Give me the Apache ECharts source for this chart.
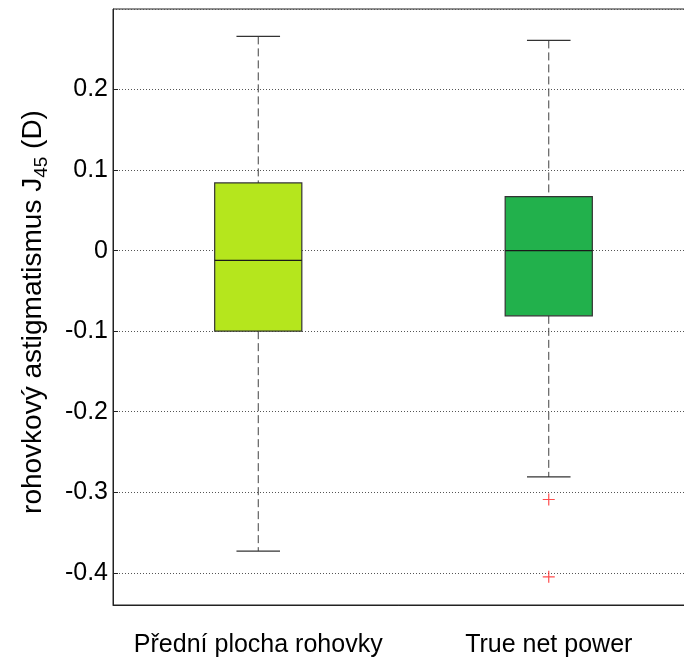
<!DOCTYPE html>
<html>
<head>
<meta charset="utf-8">
<script src="https://cdn.jsdelivr.net/npm/echarts@6/dist/echarts.min.js"></script>
<style>
  html, body { margin: 0; padding: 0; background: #fff; overflow: hidden; }
  #chart { width: 684px; height: 659px; }
</style>
</head>
<body>
<div id="chart"></div>
<script>
// Box-plot summary of corneal astigmatism J45 for two measurement methods
const categories = ['Přední plocha rohovky', 'True net power'];
const whiskerLow  = [-0.373, -0.281];
const quartile1   = [-0.100, -0.081];
const medians     = [-0.012, 0.000];
const quartile3   = [0.084, 0.067];
const whiskerHigh = [0.266, 0.261];
const boxColors   = ['#b5e61d', '#22b14c'];
// outliers: [category index, value]
const outliers = [[1, -0.309], [1, -0.405]];
const yTicks = [-0.4, -0.3, -0.2, -0.1, 0, 0.1, 0.2];

const FONT = '"Liberation Sans", Arial, sans-serif';

const boxData = categories.map((c, i) => [i, whiskerLow[i], quartile1[i], medians[i], quartile3[i], whiskerHigh[i]]);

function renderBox(params, api) {
  const idx = api.value(0);
  const band = api.size([1, 0])[0];
  const halfBox = band * 0.15;
  const halfCap = band * 0.075;
  const pLow = api.coord([idx, api.value(1)]);
  const pQ1 = api.coord([idx, api.value(2)]);
  const pMed = api.coord([idx, api.value(3)]);
  const pQ3 = api.coord([idx, api.value(4)]);
  const pHigh = api.coord([idx, api.value(5)]);
  const cx = pMed[0];
  const whiskerStyle = { stroke: '#404040', lineWidth: 1, lineDash: [8, 4], fill: null };
  const capStyle = { stroke: '#333', lineWidth: 1.3 };
  return {
    type: 'group',
    children: [
      { type: 'line', shape: { x1: cx, y1: pHigh[1], x2: cx, y2: pQ3[1] }, style: whiskerStyle },
      { type: 'line', shape: { x1: cx, y1: pQ1[1], x2: cx, y2: pLow[1] }, style: whiskerStyle },
      { type: 'line', shape: { x1: cx - halfCap, y1: pHigh[1], x2: cx + halfCap, y2: pHigh[1] }, style: capStyle },
      { type: 'line', shape: { x1: cx - halfCap, y1: pLow[1], x2: cx + halfCap, y2: pLow[1] }, style: capStyle },
      { type: 'rect', shape: { x: cx - halfBox, y: pQ3[1], width: halfBox * 2, height: pQ1[1] - pQ3[1] },
        style: { fill: boxColors[idx], stroke: '#333', lineWidth: 1.2 } },
      { type: 'line', shape: { x1: cx - halfBox, y1: pMed[1], x2: cx + halfBox, y2: pMed[1] },
        style: { stroke: '#1a1a1a', lineWidth: 1.2 } }
    ]
  };
}

const chart = echarts.init(document.getElementById('chart'), null, { renderer: 'canvas' });
chart.setOption({
  animation: false,
  backgroundColor: '#fff',
  // the axes box runs past the right edge of the figure
  grid: {
    left: 113, width: 581, top: 9, bottom: 54,
    outerBoundsMode: 'none',
    show: true, borderColor: '#222', borderWidth: 1, backgroundColor: 'transparent'
  },
  xAxis: {
    type: 'category',
    data: categories,
    boundaryGap: true,
    axisLine: { show: true, onZero: false, lineStyle: { color: '#222', width: 1 } },
    axisTick: { show: false },
    splitLine: { show: false },
    axisLabel: { color: '#000', fontFamily: FONT, fontSize: 25, margin: 28, interval: 0, hideOverlap: false }
  },
  yAxis: {
    type: 'value',
    min: -0.44,
    max: 0.3,
    splitNumber: 7,
    axisLine: { show: true, lineStyle: { color: '#222', width: 1 } },
    axisTick: { show: true, inside: true, length: 5, lineStyle: { color: '#222' } },
    splitLine: { show: true, lineStyle: { color: '#555', width: 1, type: [1, 2] } },
    axisLabel: {
      color: '#000', fontFamily: FONT, fontSize: 25, margin: 5,
      showMinLabel: false, showMaxLabel: false,
      formatter: v => {
        const r = Math.round(v * 10) / 10;
        return (Math.abs(v - r) < 1e-6 && yTicks.indexOf(r) >= 0) ? String(r) : '';
      }
    },
    name: '{a|rohovkový astigmatismus J}{s|45}{a| (D)}',
    nameLocation: 'middle',
    nameGap: 62,
    nameRotate: 90,
    nameTextStyle: {
      color: '#000',
      fontFamily: FONT,
      padding: [0, 10, 0, 0],
      rich: {
        a: { fontFamily: FONT, fontSize: 28, color: '#000', verticalAlign: 'top', lineHeight: 32 },
        s: { fontFamily: FONT, fontSize: 19, color: '#000', verticalAlign: 'bottom', lineHeight: 22, padding: [20, 0, 0, 0] }
      }
    }
  },
  series: [
    {
      type: 'custom',
      renderItem: renderBox,
      data: boxData,
      encode: { x: 0, y: [1, 2, 3, 4, 5] },
      z: 3
    },
    {
      type: 'scatter',
      data: outliers,
      symbol: 'path://M4.5,0h1v10h-1zM0,4.5h10v1h-10z',
      symbolSize: 12,
      itemStyle: { color: '#ff2020' },
      z: 4
    }
  ]
});
</script>
</body>
</html>
